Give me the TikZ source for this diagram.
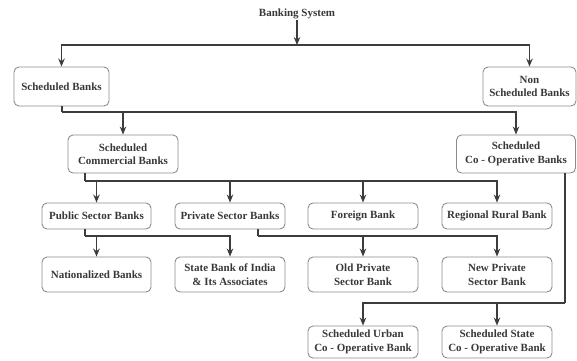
\documentclass[tikz,border=0pt]{standalone}
\usepackage{fontspec}
\setmainfont{Liberation Serif}
\usetikzlibrary{arrows.meta}
\definecolor{txt}{HTML}{383838}
\definecolor{ln}{HTML}{3C3C3C}
\definecolor{bd}{HTML}{8C8C8C}
\begin{document}
\begin{tikzpicture}[x=1pt,y=-1pt,
  bx/.style={draw=bd,line width=0.9pt,rounded corners=5pt,align=center,inner sep=0pt,
    font=\fontsize{11}{13.5}\selectfont\bfseries,text=txt},
  conn/.style={draw=ln,line width=1.5pt},
  arr/.style={conn,-{Stealth[length=8pt,width=6.5pt]}}]
\useasboundingbox (0,0) rectangle (577,360);
% title
\node[font=\fontsize{11}{13.5}\selectfont\bfseries,text=txt,inner sep=1pt] (title) at (297,14) {Banking System};
% level 1
\node[bx,minimum width=95pt,minimum height=39pt] (sb) at (61.5,86.5) {Scheduled Banks};
\node[bx,minimum width=93pt,minimum height=39pt] (nsb) at (529.5,86.5) {Non\\Scheduled Banks};
% level 2
\node[bx,minimum width=110pt,minimum height=38pt] (scb) at (123,154) {Scheduled\\Commercial Banks};
\node[bx,minimum width=119pt,minimum height=38pt] (scob) at (516,154) {Scheduled\\Co - Operative Banks};
% level 3
\node[bx,minimum width=109pt,minimum height=26pt] (pub) at (96.5,216) {Public Sector Banks};
\node[bx,minimum width=110pt,minimum height=26pt] (priv) at (230,216) {Private Sector Banks};
\node[bx,minimum width=110pt,minimum height=26pt] (for) at (363,216) {Foreign Bank};
\node[bx,minimum width=110pt,minimum height=26pt] (rrb) at (497,216) {Regional Rural Bank};
% level 4
\node[bx,minimum width=109pt,minimum height=35pt] (nat) at (96.5,274.5) {Nationalized Banks};
\node[bx,minimum width=110pt,minimum height=35pt] (sbi) at (230,274.5) {State Bank of India\\ \& Its Associates};
\node[bx,minimum width=110pt,minimum height=35pt] (old) at (363,274.5) {Old Private\\Sector Bank};
\node[bx,minimum width=110pt,minimum height=35pt] (new) at (497,274.5) {New Private\\Sector Bank};
% level 5
\node[bx,minimum width=110pt,minimum height=32pt] (urb) at (363,342) {Scheduled Urban\\Co - Operative Bank};
\node[bx,minimum width=110pt,minimum height=32pt] (sta) at (497,342) {Scheduled State\\Co - Operative Bank};
% junctions
\coordinate (j1) at (297,45);
\coordinate (j2) at (62,112);
\coordinate (j3) at (85,181);
\coordinate (j4) at (85,236);
\coordinate (j5) at (258,236);
\coordinate (j6) at (565,303);
% connectors
\draw[arr] (title) -- (j1);
\draw[arr] (j1) -| (sb);
\draw[arr] (j1) -| (nsb);
\draw[conn] (sb.south -| j2) -- (j2);
\draw[arr] (j2) -| (scb);
\draw[arr] (j2) -| (scob);
\draw[conn] (scb.south -| j3) -- (j3);
\draw[arr] (j3) -| (pub);
\draw[arr] (j3) -| (priv);
\draw[arr] (j3) -| (for);
\draw[arr] (j3) -| (rrb);
\draw[conn] (pub.south -| j4) -- (j4);
\draw[arr] (j4) -| (nat);
\draw[arr] (j4) -| (sbi);
\draw[conn] (priv.south -| j5) -- (j5);
\draw[arr] (j5) -| (old);
\draw[arr] (j5) -| (new);
\draw[conn] (scob.south -| j6) -- (j6);
\draw[arr] (j6) -| (urb);
\draw[arr] (j6) -| (sta);
\end{tikzpicture}
\end{document}
